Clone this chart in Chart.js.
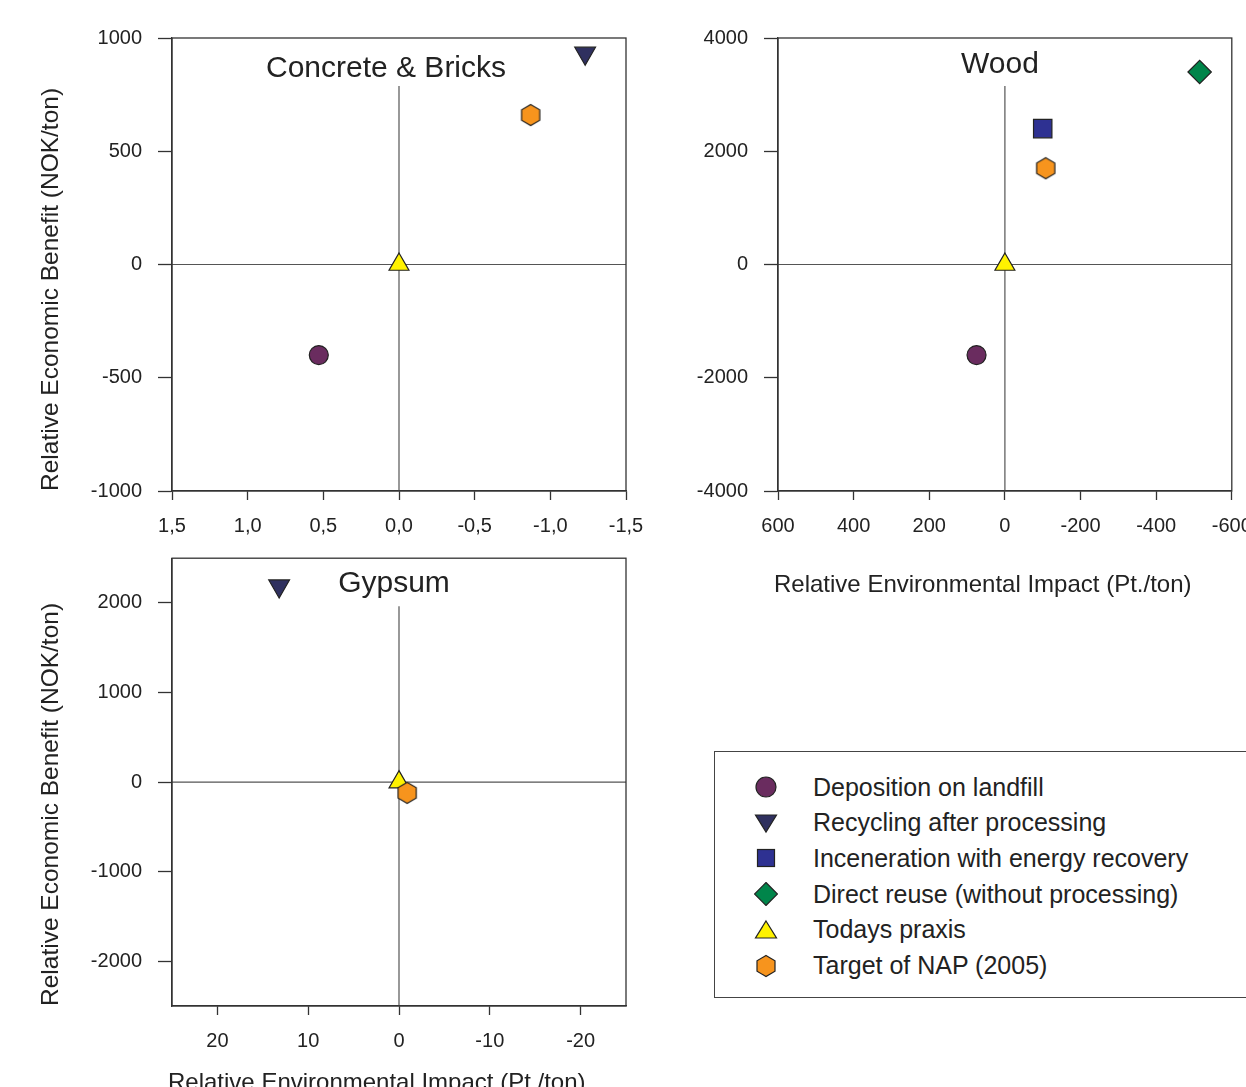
<!DOCTYPE html>
<html>
<head>
<meta charset="utf-8">
<script src="https://cdn.jsdelivr.net/npm/chart.js@4.4.1/dist/chart.umd.min.js"></script>
<style>
  html, body { margin: 0; padding: 0; background: #fff; }
  body { position: relative; width: 1246px; height: 1087px; overflow: hidden; font-family: "Liberation Sans", Arial, sans-serif; }
  canvas { position: absolute; }
  #legend { position: absolute; left: 714px; top: 751px; width: 560px; height: 247px; border: 1px solid #444; box-sizing: border-box; }
  .item { position: absolute; left: 0; height: 30px; display: flex; align-items: center; font-size: 25px; color: #222; white-space: nowrap; }
  .item svg { position: absolute; left: 39px; top: 3px; }
  .item span { position: absolute; left: 98px; }
</style>
</head>
<body>
<canvas id="concrete" width="650" height="550" style="left:0;top:0"></canvas>
<canvas id="wood" width="626" height="610" style="left:620px;top:0"></canvas>
<canvas id="gypsum" width="650" height="560" style="left:0;top:545px"></canvas>
<div id="legend"></div>
<script>
const STRATEGIES = [
    "Deposition on landfill",
    "Recycling after processing",
    "Inceneration with energy recovery",
    "Direct reuse (without processing)",
    "Todays praxis",
    "Target of NAP (2005)",
];

// x = relative environmental impact, y = relative economic benefit
const CONCRETE_IMPACT = [0.53, -1.23, null, null, 0, -0.87];
const CONCRETE_BENEFIT = [-400, 933, null, null, 0, 660];
const CONCRETE_X_TICKS = [1.5, 1, 0.5, 0, -0.5, -1, -1.5];
const CONCRETE_Y_TICKS = [-1000, -500, 0, 500, 1000];

const WOOD_IMPACT = [75, null, -100, -515, 0, -108];
const WOOD_BENEFIT = [-1600, null, 2400, 3400, 0, 1700];
const WOOD_X_TICKS = [600, 400, 200, 0, -200, -400, -600];
const WOOD_Y_TICKS = [-4000, -2000, 0, 2000, 4000];

const GYPSUM_IMPACT = [null, 13.2, null, null, 0, -0.9];
const GYPSUM_BENEFIT = [null, 2190, null, null, 0, -120];
const GYPSUM_X_TICKS = [20, 10, 0, -10, -20];
const GYPSUM_Y_TICKS = [-2000, -1000, 0, 1000, 2000];

const COLORS = ["#6a2c5f", "#2f305f", "#2e3192", "#00854a", "#fff200", "#f7941d"];
const EDGE = "#222";
const FONT = '"Liberation Sans", Arial, sans-serif';

Chart.defaults.font.family = FONT;
Chart.defaults.color = "#222";

// hexagon marker (chart.js has none)
function hexagonImage(color) {
    const c = document.createElement("canvas");
    c.width = 22; c.height = 24;
    const g = c.getContext("2d");
    g.beginPath();
    for (let k = 0; k < 6; k++) {
        const a = Math.PI / 3 * k - Math.PI / 2;
        const px = 11 + Math.cos(a) * 10.5, py = 12 + Math.sin(a) * 10.5;
        k ? g.lineTo(px, py) : g.moveTo(px, py);
    }
    g.closePath();
    g.fillStyle = color; g.fill();
    g.strokeStyle = EDGE; g.lineWidth = 1.2; g.stroke();
    return c;
}

const POINT_STYLES = [
    { pointStyle: "circle", rotation: 0, radius: 9.5 },
    { pointStyle: "triangle", rotation: 180, radius: 12 },
    { pointStyle: "rect", rotation: 0, radius: 13 },
    { pointStyle: "rectRot", rotation: 0, radius: 11.7 },
    { pointStyle: "triangle", rotation: 0, radius: 11.5 },
    { pointStyle: hexagonImage(COLORS[5]), rotation: 0, radius: 11 },
];

// frame, zero lines, panel name and the left-aligned x title
const panelDecor = {
    id: "panelDecor",
    beforeDatasetsDraw(chart, args, opts) {
        const { ctx, chartArea: a, scales: { x, y } } = chart;
        const x0 = x.getPixelForValue(0), y0 = y.getPixelForValue(0);
        ctx.save();
        ctx.strokeStyle = "#555";
        ctx.lineWidth = 1.2;
        ctx.beginPath();
        ctx.moveTo(a.left, y0); ctx.lineTo(a.right, y0);
        ctx.moveTo(x0, a.top + 48); ctx.lineTo(x0, a.bottom);
        ctx.stroke();
        ctx.strokeStyle = "#333";
        ctx.lineWidth = 1.3;
        ctx.strokeRect(a.left, a.top, a.right - a.left, a.bottom - a.top);
        ctx.fillStyle = "#222";
        ctx.font = "30px " + FONT;
        ctx.textAlign = "center";
        ctx.fillText(opts.title, a.left + opts.titleX, a.top + opts.titleY);
        if (opts.xTitle) {
            ctx.font = "24px " + FONT;
            ctx.textAlign = "left";
            ctx.fillText(opts.xTitle, a.left - 4, a.bottom + opts.xTitleY);
        }
        ctx.restore();
    },
};

function makePanel(id, p) {
    const datasets = [];
    STRATEGIES.forEach((name, i) => {
        if (p.impact[i] === null) return;
        const s = POINT_STYLES[i];
        datasets.push({
            label: name,
            data: [{ x: p.impact[i], y: p.benefit[i] }],
            pointStyle: s.pointStyle,
            rotation: s.rotation,
            pointRadius: s.radius,
            backgroundColor: COLORS[i],
            borderColor: EDGE,
            borderWidth: 1.2,
            order: STRATEGIES.length - i,
        });
    });

    const config = {
        type: "scatter",
        data: { datasets: datasets },
        options: {
            responsive: false,
            animation: false,
            layout: { padding: p.padding },
            plugins: {
                legend: { display: false },
                tooltip: { enabled: false },
                panelDecor: { title: p.title, titleX: p.titleX, titleY: p.titleY, xTitle: p.xTitle, xTitleY: p.xTitleY },
            },
            scales: {
                x: {
                    type: "linear",
                    reverse: true,
                    min: -p.xMax,
                    max: p.xMax,
                    afterBuildTicks: (scale) => { scale.ticks = p.xTicks.map(v => ({ value: v })); },
                    afterFit: (scale) => {
                        scale.height = p.xHeight;
                        scale.paddingLeft = 0;
                        scale.paddingRight = 0;
                    },
                    ticks: { autoSkip: false, maxRotation: 0, padding: 14, font: { size: 20 }, callback: p.fmt },
                    grid: { drawOnChartArea: false, drawTicks: true, tickLength: 9, tickColor: "#333", tickWidth: 1.3 },
                    border: { display: true, color: "#333", width: 1.3 },
                },
                y: {
                    type: "linear",
                    min: -p.yMax,
                    max: p.yMax,
                    afterBuildTicks: (scale) => { scale.ticks = p.yTicks.map(v => ({ value: v })); },
                    afterFit: (scale) => {
                        scale.width = p.yWidth;
                        scale.paddingTop = 0;
                        scale.paddingBottom = 0;
                    },
                    ticks: { autoSkip: false, padding: 16, font: { size: 20 }, callback: (v) => String(v) },
                    grid: { drawOnChartArea: false, drawTicks: true, tickLength: 14, tickColor: "#333", tickWidth: 1.3 },
                    border: { display: true, color: "#333", width: 1.3 },
                    title: {
                        display: !!p.yTitle,
                        text: p.yTitle || "",
                        align: "start",
                        font: { size: 24.5 },
                        padding: { top: 37, bottom: 0 },
                    },
                },
            },
        },
        plugins: [panelDecor],
    };

    const ctx = document.getElementById(id).getContext("2d");
    return new Chart(ctx, config);
}

const Y_TITLE = "Relative Economic Benefit (NOK/ton)";
const X_TITLE = "Relative Environmental Impact (Pt./ton)";

makePanel("concrete", {
    title: "Concrete & Bricks", titleX: 214, titleY: 39,
    impact: CONCRETE_IMPACT, benefit: CONCRETE_BENEFIT,
    xTicks: CONCRETE_X_TICKS, yTicks: CONCRETE_Y_TICKS,
    xMax: 1.5, yMax: 1000,
    fmt: (v) => v.toFixed(1).replace(".", ","),
    padding: { left: 0, top: 38, right: 24, bottom: 0 },
    yWidth: 172, xHeight: 59,
    yTitle: Y_TITLE,
});

makePanel("wood", {
    title: "Wood", titleX: 222, titleY: 35,
    impact: WOOD_IMPACT, benefit: WOOD_BENEFIT,
    xTicks: WOOD_X_TICKS, yTicks: WOOD_Y_TICKS,
    xMax: 600, yMax: 4000,
    fmt: (v) => String(v),
    padding: { left: 0, top: 38, right: 13, bottom: 0 },
    yWidth: 158, xHeight: 119,
    xTitle: X_TITLE, xTitleY: 101,
});

makePanel("gypsum", {
    title: "Gypsum", titleX: 222, titleY: 34,
    impact: GYPSUM_IMPACT, benefit: GYPSUM_BENEFIT,
    xTicks: GYPSUM_X_TICKS, yTicks: GYPSUM_Y_TICKS,
    xMax: 25, yMax: 2500,
    fmt: (v) => String(v),
    padding: { left: 0, top: 8, right: 24, bottom: 0 },
    yWidth: 172, xHeight: 99,
    yTitle: Y_TITLE, xTitle: X_TITLE, xTitleY: 84,
});

// legend box
function markerSvg(i) {
    const c = COLORS[i];
    const a = 'fill="' + c + '" stroke="' + EDGE + '" stroke-width="1.2"';
    let shape;
    if (i === 0) shape = '<circle cx="12" cy="12" r="10" ' + a + '/>';
    else if (i === 1) shape = '<polygon points="1.5,4 22.5,4 12,21" ' + a + '/>';
    else if (i === 2) shape = '<rect x="3.5" y="3.5" width="17" height="17" ' + a + '/>';
    else if (i === 3) shape = '<polygon points="12,0.5 23.5,12 12,23.5 0.5,12" ' + a + '/>';
    else if (i === 4) shape = '<polygon points="12,3 22.5,20 1.5,20" ' + a + '/>';
    else shape = '<polygon points="12,1.5 21,6.75 21,17.25 12,22.5 3,17.25 3,6.75" ' + a + '/>';
    return '<svg width="24" height="24" viewBox="0 0 24 24">' + shape + '</svg>';
}

const legend = document.getElementById("legend");
STRATEGIES.forEach((name, i) => {
    const row = document.createElement("div");
    row.className = "item";
    row.style.top = (20 + i * 35.7) + "px";
    row.innerHTML = markerSvg(i) + "<span>" + name + "</span>";
    legend.appendChild(row);
});
</script>
</body>
</html>
